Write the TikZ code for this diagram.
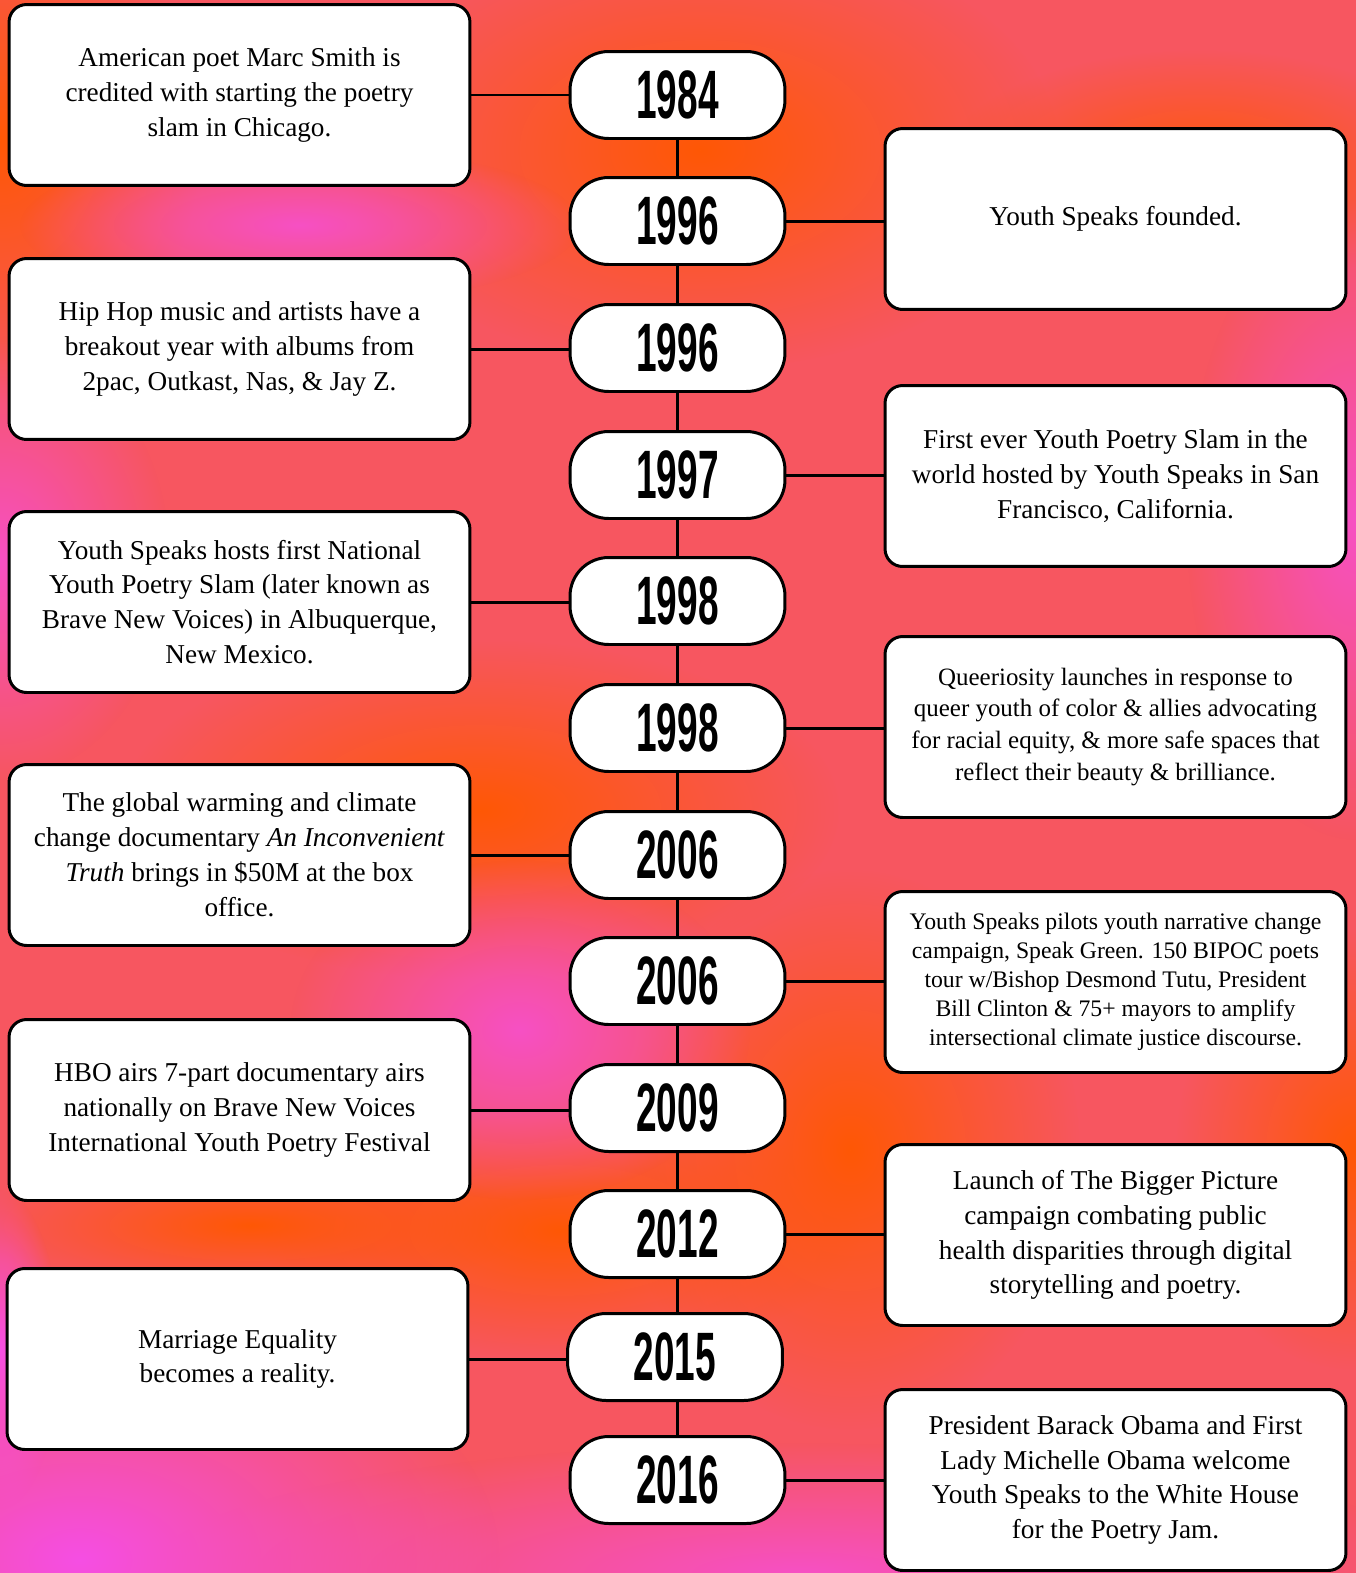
\documentclass[tikz,border=0pt]{standalone}
\usepackage{fontspec}
\usepackage{graphicx}
\setmainfont{Liberation Serif}
\newfontfamily\yearfont{Liberation Sans}
\usetikzlibrary{fadings}

\definecolor{bgcoral}{RGB}{247,86,96}
\definecolor{bgorange}{RGB}{255,88,5}
\definecolor{bgpink}{RGB}{246,80,196}
\definecolor{bgmagenta}{RGB}{245,78,228}

\tikzfading[name=blob, inner color=transparent!0, outer color=transparent!100]

\newcommand{\yearlabel}[1]{\scalebox{0.54}[1]{\yearfont\bfseries\fontsize{39}{39}\selectfont #1}}

\tikzset{
  event/.style={draw, line width=1.7pt, rounded corners=10pt, fill=white,
    minimum width=9.22cm, minimum height=3.62cm, align=center, inner sep=2pt,
    font=\fontsize{15.5}{19.85}\selectfont},
  year/.style={draw, line width=1.7pt, rounded corners=22pt, fill=white,
    minimum width=4.3cm, minimum height=1.74cm, inner sep=0pt},
  link/.style={line width=1.7pt}
}

\begin{document}
\begin{tikzpicture}[x=0.02cm, y=-0.02cm]
\useasboundingbox (0,0) rectangle (1356,1573);

% background
\fill[bgcoral] (0,0) rectangle (1356,1573);
\fill[bgorange, path fading=blob] (700,150) ellipse (360 and 220);
\fill[bgorange, path fading=blob] (1200,170) ellipse (260 and 120);
\fill[bgorange, path fading=blob] (0,140) ellipse (200 and 260);
\fill[bgorange, path fading=blob] (480,810) ellipse (360 and 170);
\fill[bgorange, path fading=blob] (560,1230) ellipse (300 and 130);
\fill[bgorange, path fading=blob] (250,1225) ellipse (280 and 70);
\fill[bgorange, path fading=blob] (850,1150) ellipse (230 and 280);
\fill[bgorange, path fading=blob] (1356,1150) ellipse (180 and 220);
\fill[bgpink, path fading=blob] (300,225) ellipse (280 and 80);
\fill[bgpink, path fading=blob] (0,560) ellipse (170 and 220);
\fill[bgpink, path fading=blob] (520,1030) ellipse (230 and 170);
\fill[bgpink, path fading=blob] (1356,520) ellipse (170 and 320);
\fill[bgpink, path fading=blob] (800,1573) ellipse (650 and 130);
\fill[bgmagenta, path fading=blob] (80,1560) ellipse (420 and 260);
\fill[bgmagenta, path fading=blob] (0,1350) ellipse (60 and 160);

% years
\node[year] (Y1) at (677.5,95) {\yearlabel{1984}};
\node[year] (Y2) at (677.5,221) {\yearlabel{1996}};
\node[year] (Y3) at (677.5,348) {\yearlabel{1996}};
\node[year] (Y4) at (677.5,475) {\yearlabel{1997}};
\node[year] (Y5) at (677.5,601) {\yearlabel{1998}};
\node[year] (Y6) at (677.5,728) {\yearlabel{1998}};
\node[year] (Y7) at (677.5,855) {\yearlabel{2006}};
\node[year] (Y8) at (677.5,981) {\yearlabel{2006}};
\node[year] (Y9) at (677.5,1108) {\yearlabel{2009}};
\node[year] (Y10) at (677.5,1234) {\yearlabel{2012}};
\node[year] (Y11) at (675,1357) {\yearlabel{2015}};
\node[year] (Y12) at (677.5,1480) {\yearlabel{2016}};

% events, left side
\node[event] (E1) at (239.5,95) {American poet Marc Smith is\\credited with starting the poetry\\slam in Chicago.};
\node[event] (E3) at (239.5,349) {Hip Hop music and artists have a\\breakout year with albums from\\2pac, Outkast, Nas, \& Jay Z.};
\node[event] (E5) at (239.5,602) {Youth Speaks hosts first National\\Youth Poetry Slam (later known as\\Brave New Voices) in Albuquerque,\\New Mexico.};
\node[event] (E7) at (239.5,855) {The global warming and climate\\change documentary \textit{An Inconvenient}\\\textit{Truth} brings in \$50M at the box\\office.};
\node[event] (E9) at (239.5,1110) {HBO airs 7-part documentary airs\\nationally on Brave New Voices\\International Youth Poetry Festival};
\node[event] (E11) at (237.5,1359) {Marriage Equality\\becomes a reality.};

% events, right side
\node[event] (E2) at (1115.5,219) {Youth Speaks founded.};
\node[event] (E4) at (1115.5,476) {First ever Youth Poetry Slam in the\\world hosted by Youth Speaks in San\\Francisco, California.};
\node[event, font=\fontsize{14.2}{18.2}\selectfont] (E6) at (1115.5,727) {Queeriosity launches in response to\\queer youth of color \& allies advocating\\for racial equity, \& more safe spaces that\\reflect their beauty \& brilliance.};
\node[event, font=\fontsize{13.5}{16.5}\selectfont] (E8) at (1115.5,982) {Youth Speaks pilots youth narrative change\\campaign, Speak Green. 150 BIPOC poets\\tour w/Bishop Desmond Tutu, President\\Bill Clinton \& 75+ mayors to amplify\\intersectional climate justice discourse.};
\node[event] (E10) at (1115.5,1235) {Launch of The Bigger Picture\\campaign combating public\\health disparities through digital\\storytelling and poetry.};
\node[event] (E12) at (1115.5,1480) {President Barack Obama and First\\Lady Michelle Obama welcome\\Youth Speaks to the White House\\for the Poetry Jam.};

% timeline
\draw[link] (Y1.south) -- (Y1.south |- Y2.north);
\draw[link] (Y2.south) -- (Y2.south |- Y3.north);
\draw[link] (Y3.south) -- (Y3.south |- Y4.north);
\draw[link] (Y4.south) -- (Y4.south |- Y5.north);
\draw[link] (Y5.south) -- (Y5.south |- Y6.north);
\draw[link] (Y6.south) -- (Y6.south |- Y7.north);
\draw[link] (Y7.south) -- (Y7.south |- Y8.north);
\draw[link] (Y8.south) -- (Y8.south |- Y9.north);
\draw[link] (Y9.south) -- (Y9.south |- Y10.north);
\draw[link] (Y10.south) -- (Y10.south |- Y11.north);
\draw[link] (Y11.south -| Y10.south) -- (Y10.south |- Y12.north);

% links to events
\draw[link] (E1.east) -- (E1.east -| Y1.west);
\draw[link] (Y2.east) -- (Y2.east -| E2.west);
\draw[link] (E3.east) -- (E3.east -| Y3.west);
\draw[link] (Y4.east) -- (Y4.east -| E4.west);
\draw[link] (E5.east) -- (E5.east -| Y5.west);
\draw[link] (Y6.east) -- (Y6.east -| E6.west);
\draw[link] (E7.east) -- (E7.east -| Y7.west);
\draw[link] (Y8.east) -- (Y8.east -| E8.west);
\draw[link] (E9.east) -- (E9.east -| Y9.west);
\draw[link] (Y10.east) -- (Y10.east -| E10.west);
\draw[link] (E11.east) -- (E11.east -| Y11.west);
\draw[link] (Y12.east) -- (Y12.east -| E12.west);
\end{tikzpicture}
\end{document}
